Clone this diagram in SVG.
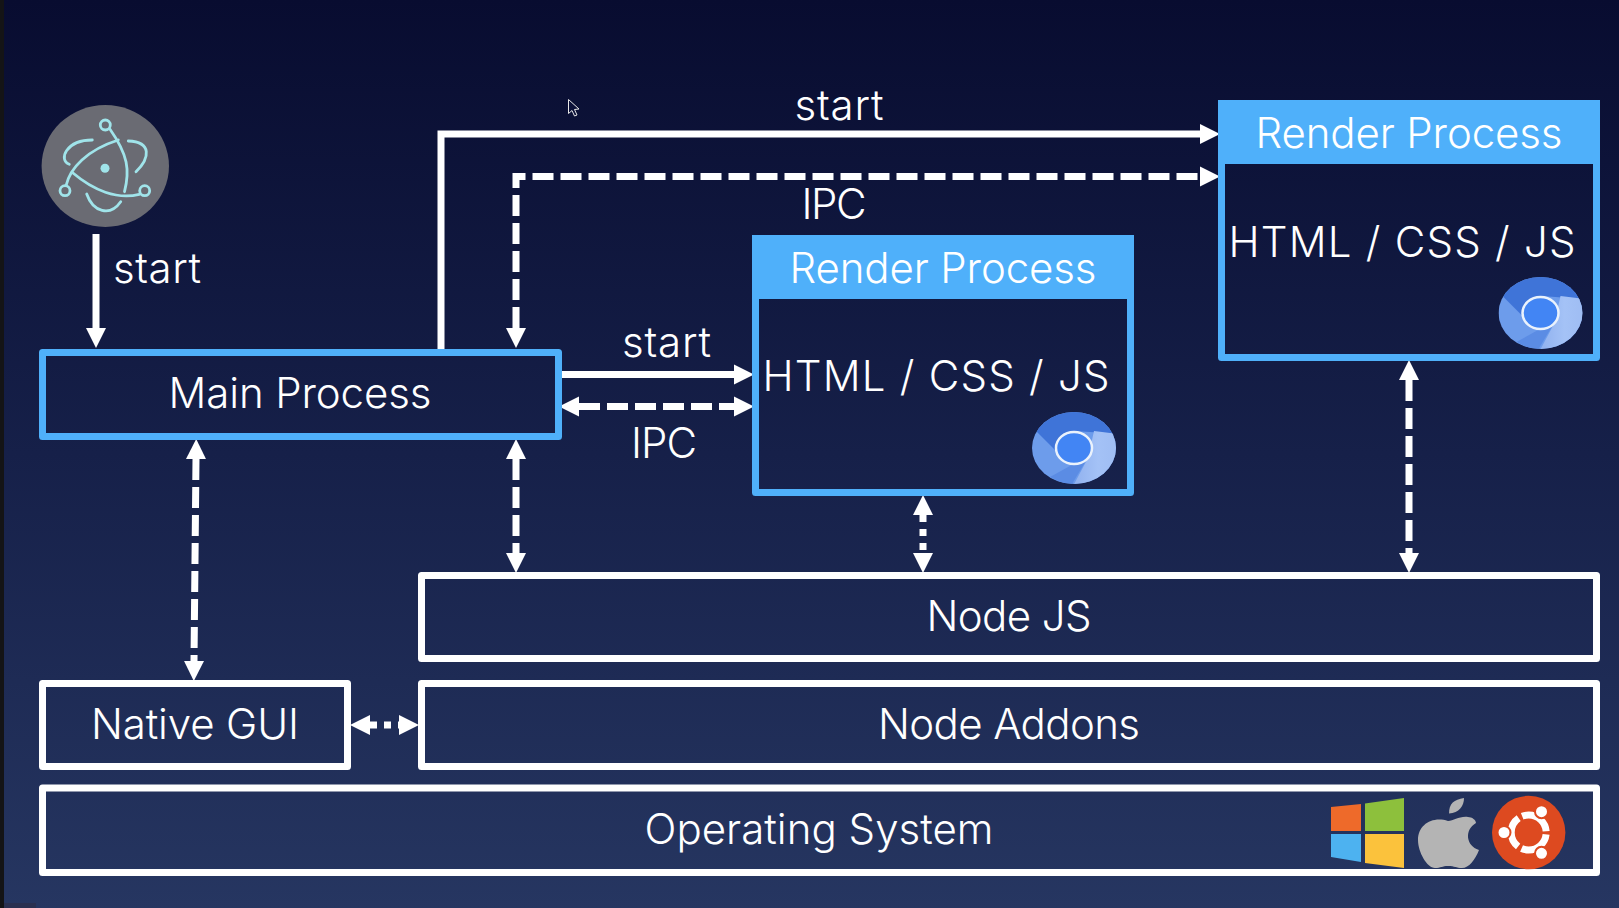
<svg xmlns="http://www.w3.org/2000/svg" width="1619" height="908" viewBox="0 0 1619 908">
<defs>
<linearGradient id="bg" x1="0" y1="0" x2="0" y2="1"><stop offset="0" stop-color="#080c30"/><stop offset="0.5" stop-color="#162049"/><stop offset="1" stop-color="#263661"/></linearGradient>
<linearGradient id="seg" x1="0" y1="0" x2="1" y2="0"><stop offset="0" stop-color="#8fb0ee"/><stop offset="0.5" stop-color="#a4c2f6"/><stop offset="1" stop-color="#9dbbf2"/></linearGradient>
<marker id="ah" markerUnits="userSpaceOnUse" markerWidth="22" markerHeight="22" refX="0" refY="11" orient="auto-start-reverse"><path d="M0 1L20 11L0 21Z" fill="#fff"/></marker>
<clipPath id="cc"><ellipse cx="0" cy="0" rx="42" ry="36"/></clipPath>
<g id="chrome">
<g clip-path="url(#cc)">
<rect x="-42" y="-36" width="84" height="72" fill="#6d9ceb"/>
<path d="M-39 -18L-44 -40H44V-14L1 -17L-14 3L-19 2Z" fill="#3f74d8"/>
<path d="M44 -14L50 40H-2L14 10L20 -17Z" fill="url(#seg)"/>
<path d="M-2 36L13 11L5 13L-24 29L-6 38Z" fill="#5b8ce4"/>
</g>
<ellipse cx="0" cy="0" rx="18" ry="16" fill="#4285f4" stroke="#eaf2fc" stroke-width="2.500"/>
</g>
</defs>
<style>
.t{font-family:Inter,"Liberation Sans",sans-serif;font-weight:300;font-size:42px;fill:#fff;text-anchor:middle}
.blue{fill:none;stroke:#4fb0fa;stroke-width:7;stroke-linejoin:round}
.hd{fill:#4fb0fa}
.white{fill:none;stroke:#fff;stroke-width:7;stroke-linejoin:round}
.c{fill:none;stroke:#fff;stroke-width:7}
.d{stroke-dasharray:21 7}
.e{stroke-dasharray:7 7}
.a{marker-end:url(#ah)}
.b{marker-start:url(#ah);marker-end:url(#ah)}
.o{fill:none;stroke:#a0e4ea;stroke-width:2.800;stroke-linecap:round}
</style>
<rect width="1619" height="908" fill="url(#bg)"/>
<rect width="4" height="908" fill="#141416"/>
<rect x="4" y="903" width="32" height="5" fill="#2a3050"/>

<g id="electron">
<ellipse cx="105.300" cy="166" rx="63.700" ry="61" fill="#6a6b73"/>
<path class="o" d="M110 129.300C128 155 130 170 124.500 191.700"/>
<path class="o" d="M92.300 140C66 140 58 160 69.300 164.300"/>
<path class="o" d="M136 171.700C150 158 152 142 128.300 141"/>
<path class="o" d="M86.700 194C93 212 110 217 120.700 201.700"/>
<path class="o" d="M118.300 140C87 150 70 168 66 185.700"/>
<path class="o" d="M73.300 173.300C93 190 117 200 139.300 194.300"/>
<circle cx="105" cy="168.300" r="4.500" fill="#a0e4ea"/>
<circle class="o" cx="105.300" cy="125" r="5"/>
<circle class="o" cx="65" cy="190.700" r="5"/>
<circle class="o" cx="144.700" cy="190.700" r="5"/>
</g>

<g id="connectors">
<path class="c a" d="M96 234V328"/>
<path class="c a" d="M441 353V134H1200"/>
<path class="c d b" d="M516 328V176.500H1200"/>
<path class="c a" d="M558 374.500H734"/>
<path class="c d b" d="M579 406.500H734"/>
<path class="c d b" d="M196 459L194 661"/>
<path class="c d b" d="M516 459V553"/>
<path class="c e b" d="M923 515V553"/>
<path class="c d b" d="M1409 380V553"/>
<path class="c e b" d="M370 725H399"/>
</g>

<g id="main-process">
<rect class="blue" x="42.500" y="352.500" width="516" height="84"/>
<text class="t" x="300" y="408" textLength="263">Main Process</text>
</g>
<g id="render-process-1">
<rect class="hd" x="752" y="235" width="382" height="64"/>
<rect class="blue" x="755.500" y="238.500" width="375" height="254"/>
<text class="t" x="943" y="283" textLength="307">Render Process</text>
<text class="t" x="936" y="391" textLength="347">HTML / CSS / JS</text>
<use href="#chrome" x="1074" y="448"/>
</g>
<g id="render-process-2">
<rect class="hd" x="1218" y="100" width="382" height="64"/>
<rect class="blue" x="1221.500" y="103.500" width="375" height="254"/>
<text class="t" x="1409" y="148" textLength="307">Render Process</text>
<text class="t" x="1402" y="257" textLength="347">HTML / CSS / JS</text>
<use href="#chrome" x="1540.500" y="313"/>
</g>
<g id="node-js">
<rect class="white" x="421.500" y="575.500" width="1175" height="83"/>
<text class="t" x="1009" y="631" textLength="165">Node JS</text>
</g>
<g id="node-addons">
<rect class="white" x="421.500" y="683.500" width="1175" height="83"/>
<text class="t" x="1009" y="739" textLength="262">Node Addons</text>
</g>
<g id="native-gui">
<rect class="white" x="42.500" y="683.500" width="305" height="83"/>
<text class="t" x="195" y="739" textLength="208">Native GUI</text>
</g>
<g id="operating-system">
<rect class="white" x="42.500" y="788" width="1554" height="84.500"/>
<text class="t" x="819" y="844" textLength="349">Operating System</text>
<path d="M1331 807L1361 804V831H1331Z" fill="#ee6a2a"/>
<path d="M1365 803.500L1404 798V831H1365Z" fill="#8dc03c"/>
<path d="M1331 834H1361V862L1331 857Z" fill="#4db2f0"/>
<path d="M1365 834H1404V868L1365 863Z" fill="#fbc23c"/>
<path d="M1449 813.500C1449 803 1454 800 1464 798C1464 806 1459 813 1449 813.500Z" fill="#b4b4b4"/>
<path d="M1448 821C1454 821 1459 816 1468 817C1472 817 1476 820 1476 823C1464 830 1466 846 1479 850C1475 860 1469 868 1462 868C1456 868 1455 866 1448 866C1442 866 1441 868 1435 868C1427 868 1418 852 1418 840C1418 825 1432 816 1448 821Z" fill="#b4b4b4"/>
<circle cx="1528.700" cy="832.500" r="36.700" fill="#dd4a20"/>
<circle cx="1528.700" cy="832.500" r="17.500" fill="none" stroke="#fff" stroke-width="7" stroke-dasharray="32.650 4" stroke-dashoffset="-2"/>
<g fill="#fff" stroke="#dd4a20" stroke-width="2"><circle cx="1504" cy="832.500" r="6.500"/><circle cx="1541.500" cy="811.700" r="6.500"/><circle cx="1541.500" cy="853.300" r="6.500"/></g>
</g>

<text class="t" x="839" y="120" textLength="89">start</text>
<text class="t" x="834" y="219" textLength="65">IPC</text>
<text class="t" x="157" y="283" textLength="88">start</text>
<text class="t" x="666.500" y="357" textLength="89">start</text>
<text class="t" x="664" y="458" textLength="66">IPC</text>

<path d="M568.500 99.500V113.500L572 110.500L574.500 116L577 115L574.500 109.500L579 109Z" fill="#0c1138" stroke="#e8e8e8" stroke-width="1"/>
</svg>
